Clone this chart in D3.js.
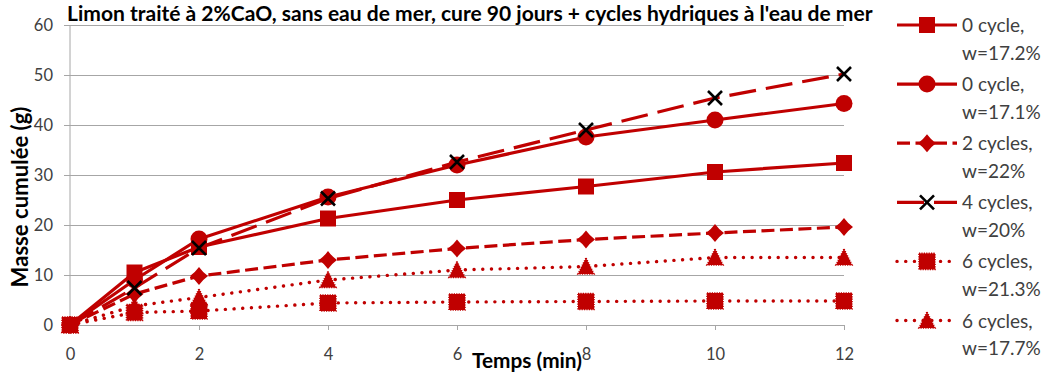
<!DOCTYPE html>
<html>
<head>
<meta charset="utf-8">
<script src="https://cdn.jsdelivr.net/npm/d3@7"></script>
<style>
  body { margin: 0; background: #fff; }
  svg { display: block; }
</style>
</head>
<body>
<svg id="chart" width="1049" height="383"></svg>
<script>
// Cumulative mass lost over time for each wetting/drying condition
const times = [0, 1, 2, 4, 6, 8, 10, 12];
const xTicks = [0, 2, 4, 6, 8, 10, 12];
const yTicks = [0, 10, 20, 30, 40, 50, 60];

const cycle0w172 = [0, 10.5, 15.6, 21.3, 25.0, 27.7, 30.6, 32.4];
const cycle0w171 = [0, 9.0, 17.2, 25.6, 32.0, 37.6, 41.0, 44.3];
const cycle2w22  = [0, 6.2, 9.8, 13.0, 15.3, 17.1, 18.4, 19.6];
const cycle4w20  = [0, 7.4, 15.4, 25.3, 32.6, 39.0, 45.4, 50.2];
const cycle6w213 = [0, 2.5, 2.8, 4.4, 4.6, 4.7, 4.8, 4.8];
const cycle6w177 = [0, 3.8, 5.5, 9.0, 11.0, 11.7, 13.5, 13.5];

const legendLabels = [
  ["0 cycle,", "w=17.2%"],
  ["0 cycle,", "w=17.1%"],
  ["2 cycles,", "w=22%"],
  ["4 cycles,", "w=20%"],
  ["6 cycles,", "w=21.3%"],
  ["6 cycles,", "w=17.7%"]
];

const titleText = "Limon traité à 2%CaO, sans eau de mer, cure 90 jours + cycles hydriques à l'eau de mer";
const xTitle = "Temps (min)";
const yTitle = "Masse cumulée (g)";

const RED = "#C00000";
const GRID = "#A6A6A6";
const TEXT = "#404040";
const FONT = "Lato, 'Open Sans', sans-serif";

// line and marker styles for each series
const styles = [
  { dash: null,        marker: "square" },
  { dash: null,        marker: "circle" },
  { dash: "13,5.5",    marker: "star" },
  { dash: "27,10",     marker: "x" },
  { dash: "0.1,8.6",   marker: "squareDot", dotted: true },
  { dash: "0.1,8.6",   marker: "triangleDot", dotted: true }
];
const seriesValues = [cycle0w172, cycle0w171, cycle2w22, cycle4w20, cycle6w213, cycle6w177];

const svg = d3.select("#chart");
const x = d3.scaleLinear().domain([0, 12]).range([70, 844]);
const y = d3.scaleLinear().domain([0, 60]).range([325, 25]);

// horizontal gridlines
svg.append("g")
  .attr("transform", `translate(${x(0)},0)`)
  .call(d3.axisLeft(y).tickValues(yTicks.slice(1)).tickSize(-(x(12) - x(0))).tickFormat(""))
  .call(g => g.select(".domain").remove())
  .call(g => g.selectAll("line").attr("stroke", GRID).attr("stroke-width", 1));

// y axis
svg.append("g")
  .attr("transform", `translate(${x(0)},0)`)
  .call(d3.axisLeft(y).tickValues(yTicks).tickSize(6).tickPadding(11))
  .call(g => g.select(".domain").attr("stroke", GRID).attr("d", `M0,${y(60)}V${y(0)}`))
  .call(g => g.selectAll("line").attr("stroke", GRID))
  .call(g => g.selectAll("text").attr("fill", TEXT).attr("font-family", FONT).attr("font-size", 16.5));

// x axis
svg.append("g")
  .attr("transform", `translate(0,${y(0)})`)
  .call(d3.axisBottom(x).tickValues(xTicks).tickSize(5).tickSizeOuter(0))
  .call(g => g.select(".domain").attr("stroke", GRID))
  .call(g => g.selectAll("line").attr("stroke", GRID))
  .call(g => g.selectAll("text").attr("fill", TEXT).attr("font-family", FONT).attr("font-size", 16.5)
    .attr("y", 35).attr("dy", 0));

// fit a text element's font size so it spans a given width
function fitWidth(sel, target, base) {
  sel.attr("font-size", base);
  const w = sel.node().getComputedTextLength();
  sel.attr("font-size", base * target / w);
}

// marker shapes
function markerPath(type) {
  if (type === "square" || type === "squareDot") {
    const s = 16;
    return `M${-s / 2},${-s / 2}h${s}v${s}h${-s}Z`;
  }
  if (type === "triangleDot") {
    const w = 16, h = 15;
    return `M0,${-h / 2 - 1}L${w / 2},${h / 2}L${-w / 2},${h / 2}Z`;
  }
  if (type === "star") {
    const r = 9, c = r * 0.42;
    return `M0,${-r}Q${c},${-c} ${r},0Q${c},${c} 0,${r}Q${-c},${c} ${-r},0Q${-c},${-c} 0,${-r}Z`;
  }
  return null;
}

function drawMarker(g, type, cx, cy) {
  if (type === "circle") {
    g.append("circle").attr("cx", cx).attr("cy", cy).attr("r", 8.5).attr("fill", RED);
  } else if (type === "x") {
    const h = 7;
    g.append("path")
      .attr("d", `M${cx - h},${cy - h}L${cx + h},${cy + h}M${cx + h},${cy - h}L${cx - h},${cy + h}`)
      .attr("stroke", "#000").attr("stroke-width", 2.6).attr("fill", "none");
  } else {
    const p = g.append("path")
      .attr("d", markerPath(type))
      .attr("transform", `translate(${cx},${cy})`)
      .attr("fill", RED);
    if (type === "squareDot" || type === "triangleDot") {
      p.attr("stroke", RED).attr("stroke-width", 1.6).attr("stroke-dasharray", "1.2,1.2");
    }
  }
}

const line = d3.line().x((d, i) => x(times[i])).y(d => y(d));

seriesValues.forEach((vals, si) => {
  const st = styles[si];
  const g = svg.append("g");
  g.append("path")
    .attr("d", line(vals))
    .attr("fill", "none")
    .attr("stroke", RED)
    .attr("stroke-width", st.dotted ? 3.4 : 3.2)
    .attr("stroke-linecap", st.dotted ? "round" : "butt")
    .attr("stroke-linejoin", "round")
    .attr("stroke-dasharray", st.dash);
  vals.forEach((v, i) => drawMarker(g, st.marker, x(times[i]), y(v)));
});

// legend
const legend = svg.append("g");
legendLabels.forEach((lab, i) => {
  const ly = 25 + i * 59.1;
  const st = styles[i];
  const g = legend.append("g");
  g.append("line")
    .attr("x1", 897).attr("x2", 957).attr("y1", ly).attr("y2", ly)
    .attr("stroke", RED).attr("stroke-width", st.dotted ? 3.4 : 3.2)
    .attr("stroke-linecap", st.dotted ? "round" : "butt")
    .attr("stroke-dasharray", st.dash);
  drawMarker(g, st.marker, 927, ly);
  const t = g.append("text")
    .attr("x", 962).attr("y", ly + 7)
    .attr("font-family", FONT).attr("font-size", 19).attr("fill", TEXT);
  t.append("tspan").attr("x", 962).text(lab[0]);
  t.append("tspan").attr("x", 962).attr("dy", 27.5).text(lab[1]);
});

// titles
const title = svg.append("text")
  .attr("x", 67).attr("y", 21)
  .attr("font-family", FONT).attr("font-weight", "bold").attr("fill", "#000")
  .text(titleText);
fitWidth(title, 806, 17);

const xt = svg.append("text")
  .attr("x", 527).attr("y", 368).attr("text-anchor", "middle")
  .attr("font-family", FONT).attr("font-weight", "bold").attr("fill", "#000")
  .text(xTitle);
fitWidth(xt, 110, 17);

const yt = svg.append("text")
  .attr("transform", "translate(20,197) rotate(-90)")
  .attr("text-anchor", "middle").attr("dy", "0.36em")
  .attr("font-family", FONT).attr("font-weight", "bold").attr("fill", "#000")
  .text(yTitle);
fitWidth(yt, 181, 18);
</script>
</body>
</html>
